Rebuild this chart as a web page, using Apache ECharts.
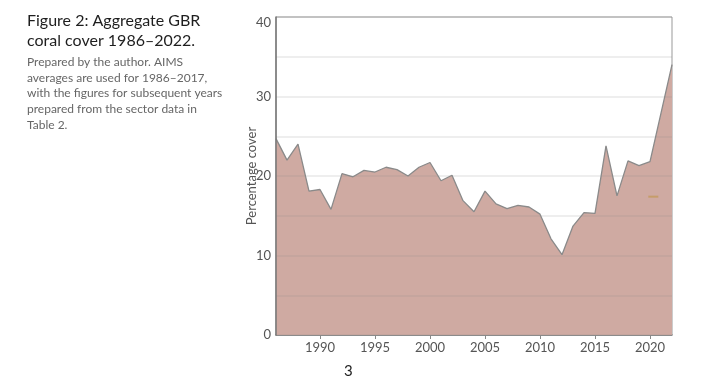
<!DOCTYPE html>
<html><head><meta charset="utf-8">
<script src="https://cdn.jsdelivr.net/npm/echarts@6/dist/echarts.min.js"></script>
<style>html,body{margin:0;padding:0;background:#fff}#c{width:709px;height:387px}</style>
</head><body><div id="c"></div>
<script>
const years = [1986,1987,1988,1989,1990,1991,1992,1993,1994,1995,1996,1997,1998,1999,2000,2001,2002,2003,2004,2005,2006,2007,2008,2009,2010,2011,2012,2013,2014,2015,2016,2017,2018,2019,2020,2021,2022];
const cover = [24.7,22.0,24.0,18.1,18.3,15.8,20.3,19.9,20.7,20.5,21.1,20.8,20.0,21.1,21.7,19.4,20.1,16.9,15.5,18.1,16.5,15.9,16.3,16.1,15.2,12.1,10.1,13.7,15.4,15.3,23.8,17.5,21.9,21.3,21.8,27.9,34.0];
const markerYear = [2020.3];
const markerValue = [17.4];
const xTickLabels = [1990,1995,2000,2005,2010,2015,2020];
const yTickLabels = [0,10,20,30,40];
const titleLines = ['Figure 2: Aggregate GBR','coral cover 1986–2022.'];
const noteLines = ['Prepared by the author. AIMS','averages are used for 1986–2017,','with the figures for subsequent years','prepared from the sector data in','Table 2.'];
const yAxisName = 'Percentage cover';
const pageNumber = '3';

const chart = echarts.init(document.getElementById('c'), null, {renderer:'canvas'});
const FONT = 'Lato, "Open Sans", sans-serif';
const graphics = [];
titleLines.forEach((t,i)=>graphics.push({type:'text',left:27,top:13+i*20,style:{text:t,font:'16px '+FONT,fill:'#1e1e1e'}}));
noteLines.forEach((t,i)=>graphics.push({type:'text',left:27,top:56+i*15.8,style:{text:t,font:'12px '+FONT,fill:'#666'}}));
graphics.push({type:'text',left:344,top:364,style:{text:pageNumber,font:'15px '+FONT,fill:'#222'}});

chart.setOption({
  animation:false,
  grid:{left:276,right:37,top:17,bottom:52,show:true,borderColor:'#999',borderWidth:1},
  graphic:graphics,
  xAxis:{type:'value',min:1986,max:2022,
    axisLine:{show:true,lineStyle:{color:'#777',width:1.5}},
    axisTick:{show:true,customValues:xTickLabels,length:4,lineStyle:{color:'#888'}},
    axisLabel:{customValues:xTickLabels,color:'#555',fontSize:13,fontFamily:FONT,margin:6,formatter:v=>String(v)},
    splitLine:{show:false}},
  yAxis:{type:'value',min:0,max:40,interval:5,z:3,
    name:yAxisName,nameLocation:'middle',nameGap:18,nameRotate:90,nameMoveOverlap:false,
    nameTextStyle:{color:'#555',fontSize:13,fontFamily:FONT},
    axisLine:{show:true,lineStyle:{color:'#777',width:1.5}},
    axisTick:{show:false},
    axisLabel:{color:'#555',fontSize:13,fontFamily:FONT,margin:5,
      formatter:v=>yTickLabels.includes(v)?(v===40?'{t|40}':String(v)):'',
      rich:{t:{padding:[12,0,0,0],color:'#555',fontSize:13,fontFamily:FONT}}},
    splitLine:{show:true,lineStyle:{color:'rgba(140,140,140,0.2)',width:1.5}}},
  series:[
    {type:'line',data:years.map((y,i)=>[y,cover[i]]),symbol:'none',z:2,
     lineStyle:{color:'#8a8a8a',width:1.3},
     areaStyle:{color:'#cfaaa2',opacity:1}},
    {type:'scatter',data:markerYear.map((y,i)=>[y,markerValue[i]]),symbol:'rect',symbolSize:[10,2],z:4,
     itemStyle:{color:'#c39a5c'}}
  ]
});
</script></body></html>
